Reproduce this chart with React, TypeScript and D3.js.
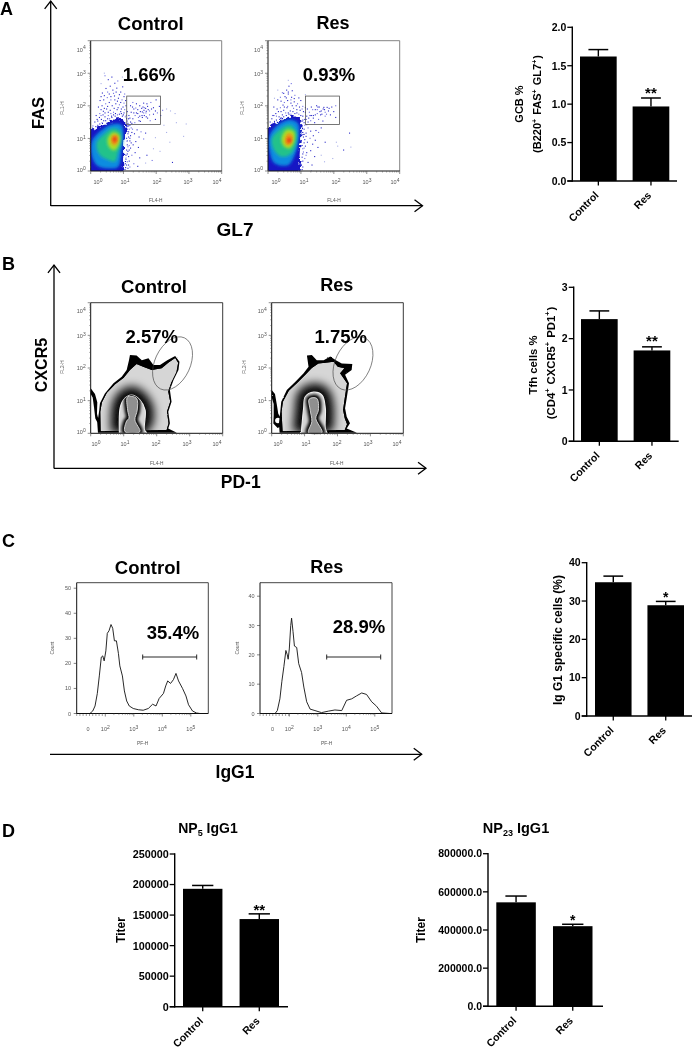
import React from "react";
import * as d3 from "d3";

type P = [number, number];
const FONT = "'Liberation Sans', Arial, sans-serif";

// ---------- bar chart values ----------
const groups = ["Control", "Res"];
const gcbMeans = [1.62, 0.97];
const gcbUpper = [1.71, 1.08];
const gcbTicks = [0, 0.5, 1, 1.5, 2];
const tfhMeans = [2.38, 1.77];
const tfhUpper = [2.54, 1.84];
const tfhTicks = [0, 1, 2, 3];
const igg1Means = [34.9, 28.9];
const igg1Upper = [36.5, 29.9];
const igg1Ticks = [0, 10, 20, 30, 40];
const np5Means = [193000, 143500];
const np5Upper = [198500, 152000];
const np5Ticks = [0, 50000, 100000, 150000, 200000, 250000];
const np23Means = [545000, 420000];
const np23Upper = [578000, 430000];
const np23Ticks = [0, 200000, 400000, 600000, 800000];

// ---------- histogram values (log10 channel, count) ----------
const histControl: P[] = [[0.99,0],[1.46,0],[1.56,1],[1.64,3],[1.72,8],[1.79,15],[1.86,22.5],[1.91,23],[1.96,21],[2.02,25],[2.07,32],[2.13,33],[2.2,35.5],[2.26,34],[2.32,29],[2.39,29],[2.46,24],[2.51,19],[2.6,15],[2.67,9],[2.75,5],[2.84,3],[2.98,2],[3.16,1.5],[3.33,1.3],[3.51,2],[3.66,3.7],[3.78,3],[3.89,6],[4.04,8],[4.12,11],[4.19,13],[4.29,12],[4.39,13.5],[4.48,16],[4.57,13],[4.71,10],[4.83,7],[4.92,3.5],[5.06,1],[5.2,0.2],[5.32,0]];
const histRes: P[] = [[1.09,0],[1.5,0],[1.58,1],[1.67,5],[1.74,11],[1.81,16],[1.88,21.5],[1.93,20],[1.96,18.5],[2,22],[2.05,30],[2.08,32.5],[2.13,28],[2.18,23],[2.26,22.5],[2.33,17],[2.43,14],[2.51,9],[2.61,4],[2.73,1.5],[2.9,1],[3.13,0.3],[3.37,0.8],[3.6,1.2],[3.84,1],[4.01,4.5],[4.19,5],[4.36,6],[4.54,7],[4.71,6.5],[4.89,4],[5.06,2.5],[5.24,0.2],[5.53,0]];

// ---------- dot-plot density contours (log10 GL7, log10 FAS) ----------
const a1Levels: P[][] = [
  [[0,1.21],[0.28,1.36],[0.59,1.51],[0.84,1.62],[1.0,1.58],[1.1,1.31],[1.02,0.9],[1.02,0.39],[0.97,0],[0,0]],
  [[0.03,0.9],[0.28,1.21],[0.64,1.43],[0.94,1.41],[0.99,1.1],[0.94,0.64],[0.84,0.13],[0.54,0.08],[0.18,0.18],[0.03,0.49]],
  [[0.18,0.85],[0.44,1.16],[0.69,1.31],[0.91,1.21],[0.93,0.9],[0.84,0.59],[0.74,0.29],[0.54,0.34],[0.28,0.49]],
  [[0.54,1.05],[0.69,1.19],[0.87,1.1],[0.87,0.85],[0.74,0.64],[0.59,0.7],[0.51,0.9]],
  [[0.62,0.98],[0.72,1.13],[0.84,1.05],[0.81,0.85],[0.72,0.78],[0.64,0.85]],
  [[0.67,0.98],[0.74,1.05],[0.79,0.98],[0.74,0.88]],
];
const a2Levels: P[][] = [
  [[0.02,1.36],[0.3,1.5],[0.71,1.68],[0.94,1.62],[1.04,1.45],[1.0,1],[0.96,0.49],[0.96,0],[0,0],[0,1.3]],
  [[0.05,1.1],[0.3,1.41],[0.66,1.57],[0.91,1.46],[0.93,1],[0.81,0.49],[0.61,0.18],[0.2,0.24],[0.05,0.59]],
  [[0.12,1],[0.35,1.26],[0.66,1.41],[0.86,1.21],[0.86,0.9],[0.71,0.54],[0.41,0.44],[0.18,0.65]],
  [[0.41,1],[0.56,1.26],[0.79,1.21],[0.79,0.9],[0.66,0.7],[0.49,0.75]],
  [[0.51,0.95],[0.61,1.16],[0.74,1.1],[0.73,0.88],[0.63,0.78],[0.54,0.82]],
  [[0.58,0.95],[0.66,1.02],[0.71,0.94],[0.63,0.86]],
];
const levelColours = ["#1414c4", "#0a8ce0", "#22c28a", "#a8e028", "#f09018", "#e83018"];

// sparse events
const a1Events: P[] = [[0.42,2.94],[0.52,2.82],[0.63,2.9],[0.72,2.71],[0.81,2.78],[0.58,2.62],[0.45,2.55],[0.34,2.41],[0.5,2.44],[0.66,2.5],[0.78,2.56],[0.9,2.44],[1.02,2.38],[0.96,2.6],[0.27,2.18],[0.38,2.2],[0.49,2.27],[0.6,2.3],[0.71,2.32],[0.83,2.25],[0.94,2.2],[1.05,2.18],[0.22,1.98],[0.33,2.02],[0.44,2.08],[0.55,2.12],[0.64,2.02],[0.75,2.08],[0.86,2.05],[0.97,1.98],[1.06,2.02],[0.15,1.72],[0.26,1.78],[0.37,1.85],[0.47,1.92],[0.58,1.88],[0.68,1.82],[0.79,1.9],[0.9,1.84],[1,1.8],[1.07,1.72],[0.2,1.55],[0.31,1.6],[0.42,1.68],[0.52,1.72],[0.63,1.66],[0.73,1.7],[0.95,1.7],[1.1,1.55],[1.15,1.72],[1.2,1.52],[1.27,1.62],[1.33,1.5],[1.22,1.82],[1.3,1.92],[1.38,1.8],[1.44,1.66],[1.5,1.54],[1.55,1.72],[1.61,1.88],[1.67,1.8],[1.58,1.98],[1.5,1.84],[1.72,1.64],[1.78,1.74],[1.84,1.92],[1.9,1.76],[1.96,1.6],[2.02,1.8],[1.62,1.72],[1.66,1.94],[1.72,2],[1.78,1.86],[1.56,1.83],[1.48,2.02],[1.38,2.08],[1.27,2.12],[1.2,2.02],[1.42,1.9],[1.6,2.1],[1.82,2.12],[1.98,2.2],[2.08,2],[2.12,1.72],[2.18,1.88],[1.14,1.22],[1.2,1.1],[1.18,0.94],[1.26,1.3],[1.32,1.16],[1.4,1.28],[1.46,1.06],[1.52,1.22],[1.28,0.82],[1.36,0.92],[1.44,0.74],[1.6,1],[1.66,1.18],[1.12,0.62],[1.2,0.72],[1.24,0.5],[1.34,0.58],[1.48,0.42],[1.16,0.32],[1.3,0.24],[1.42,0.16],[1.12,0.1],[1.7,0.5],[1.86,0.34],[2.48,0.28],[1.08,1.02],[1.1,0.82],[1.09,1.38],[1.06,0.5],[1.08,0.2],[1.1,1.3],
  // dense fringe round the main population
  [0.08,1.3],[0.14,1.38],[0.2,1.42],[0.26,1.46],[0.33,1.5],[0.38,1.56],[0.44,1.56],[0.5,1.62],[0.56,1.62],[0.62,1.7],[0.68,1.74],[0.74,1.78],[0.8,1.74],[0.86,1.76],[0.92,1.78],[0.98,1.74],[1.04,1.68],[1.08,1.62],[1.12,1.48],[1.14,1.4],[1.16,1.3],[1.12,1.16],[1.14,1.06],[1.1,0.94],[1.12,0.76],[1.08,0.66],[1.1,0.54],[1.06,0.38],[1.1,0.3],[1.04,0.24],[1.05,0.12],[1.03,0.06],
  [0.05,1.4],[0.11,1.52],[0.18,1.6],[0.25,1.66],[0.3,1.72],[0.36,1.74],[0.42,1.8],[0.52,1.82],[0.6,1.78],[0.7,1.94],[0.82,1.96],[0.92,1.92],[1.02,1.9],[1.1,1.84],[1.14,1.62],[1.18,1.42],[1.22,1.34],[1.24,1.2],[1.18,1.02],[1.22,0.88],[1.16,0.8],[1.16,0.66],[1.14,0.46],[1.14,0.2],[1.18,0.14],
  [0.3,2.3],[0.4,2.33],[0.55,2.38],[0.68,2.4],[0.76,2.44],[0.86,2.36],[1,2.3],[0.6,2.2],[0.72,2.2],[0.8,2.16],[0.9,2.12],[1,2.1],[0.5,2.0],[0.4,1.94],[0.3,1.9],
  [1.34,1.72],[1.42,1.78],[1.48,1.7],[1.54,1.94],[1.6,1.8],[1.68,1.68],[1.74,1.9],[1.68,1.85],[1.62,1.96],[1.56,1.66],[1.3,1.8],[1.26,1.98],[1.36,1.95],[1.7,2.08],[1.9,1.96],[1.96,1.86],[1.8,1.56],[1.46,1.56],[1.24,1.48],[1.18,1.64]];
const a1Faint: P[] = [[2.22,1.42],[2.3,1.92],[2.42,1.86],[2.56,1.78],[2.6,1.5],[2.9,1.46],[2.82,1.08],[2.4,0.9],[1.96,1.04],[1.9,0.7],[1.66,0.26],[2.1,0.62],[2.3,1.2],[0.4,3.02],[0.3,2.7],[0.95,2.9]];
const a2Events: P[] = [[0.69,2.7],[0.62,2.62],[0.55,2.5],[0.72,2.48],[0.42,2.42],[0.5,2.3],[0.6,2.38],[0.7,2.28],[0.8,2.34],[0.92,2.26],[0.28,2.2],[0.38,2.16],[0.48,2.12],[0.58,2.18],[0.68,2.1],[0.78,2.14],[0.88,2.08],[0.98,2.18],[0.16,1.98],[0.26,1.92],[0.36,1.96],[0.46,1.88],[0.56,1.96],[0.66,1.86],[0.76,1.94],[0.86,1.9],[0.96,1.88],[1.06,1.84],[0.12,1.72],[0.22,1.78],[0.32,1.68],[0.42,1.74],[0.52,1.8],[0.62,1.76],[1.04,1.7],[1.1,1.6],[1.02,1.92],[1.12,1.82],[1.16,1.7],[1.2,1.52],[1.24,1.82],[1.3,1.98],[1.36,1.72],[1.42,1.9],[1.48,1.78],[1.54,1.98],[1.6,1.86],[1.66,1.92],[1.72,1.82],[1.78,1.97],[1.82,1.86],[1.88,1.74],[1.72,1.7],[1.58,1.74],[1.46,2.02],[1.36,1.64],[1.28,1.56],[1.92,1.98],[1.98,1.84],[2.04,1.66],[2.04,2.02],[1.18,1.92],[1.3,1.72],[1.4,1.5],[1.52,1.6],[1.65,1.55],[1.08,1.3],[1.14,1.18],[1.2,1.34],[1.28,1.24],[1.36,1.1],[1.44,1.26],[1.52,1.2],[1.6,1.34],[1.1,0.98],[1.18,0.9],[1.26,1.02],[1.34,0.84],[1.42,0.96],[1.5,0.74],[1.08,0.72],[1.16,0.58],[1.28,0.64],[1.4,0.46],[1.1,0.4],[1.2,0.28],[1.32,0.2],[1.04,0.14],[1.06,0.6],[2.46,1.18],[2.28,0.66],[1.72,0.9],[1.02,1.42],[1.04,1.2],[1.02,0.8],
  // dense fringe round the main population
  [0.06,1.42],[0.12,1.48],[0.18,1.54],[0.24,1.58],[0.34,1.6],[0.4,1.64],[0.46,1.68],[0.54,1.72],[0.6,1.8],[0.68,1.76],[0.74,1.84],[0.8,1.78],[0.86,1.8],[0.92,1.76],[0.98,1.72],[1.04,1.58],[1.08,1.5],[1.1,1.42],[1.08,1.14],[1.06,1.06],[1.08,0.88],[1.04,0.7],[1.04,0.54],[1.02,0.44],[1.04,0.32],[1,0.22],[1.02,0.06],[1.12,0.78],[1.14,1.08],[1.14,0.5],
  [0.05,1.52],[0.1,1.62],[0.16,1.72],[0.24,1.7],[0.3,1.84],[0.38,1.84],[0.48,1.98],[0.58,2],[0.72,2.02],[0.84,2.02],[0.94,1.98],[1.04,2],[1.12,1.96],[1.14,1.6],[1.16,1.44],[0.36,2.28],[0.46,2.4],[0.6,2.44],[0.78,2.24],[0.68,2.2],[0.54,2.26],[0.44,2.04],
  [1.42,1.74],[1.48,1.9],[1.56,1.84],[1.62,1.76],[1.7,1.9],[1.76,1.76],[1.84,1.94],[1.68,1.97],[1.5,1.98],[1.34,1.9],[1.26,1.72],[1.22,1.64]];
const a2Faint: P[] = [[1.12,2.36],[0.6,2.8],[0.28,2.5],[0.18,2.25],[2.06,0.9],[2.1,0.78],[1.6,0.5],[1.7,0.3],[1.95,0.4],[1.3,0.02],[2.5,0.75]];

// zebra contours (log10 PD-1, log10 CXCR5)
const b1Outer: P[] = [[0.26,0.71],[0.28,0.92],[0.43,1.22],[0.69,1.53],[0.94,1.73],[1.09,1.94],[1.16,2.24],[1.19,2.4],[1.39,2.38],[1.55,2.24],[1.75,2.3],[1.9,2.09],[2.1,2.09],[2.32,2.24],[2.56,2.37],[2.69,2.19],[2.66,1.94],[2.51,1.63],[2.4,1.33],[2.45,0.97],[2.35,0.66],[2.4,0.31],[2.35,0.15],[2.61,0.02],[0.22,0.02],[0.2,0.3]];
const b1Inner: P[] = [[0.29,0.66],[0.34,0.95],[0.49,1.24],[0.74,1.5],[1.0,1.7],[1.19,1.94],[1.39,2.12],[1.59,2.04],[1.85,1.94],[2.15,1.99],[2.35,2.16],[2.56,2.31],[2.65,2.16],[2.6,1.88],[2.44,1.55],[2.35,1.28],[2.41,0.97],[2.31,0.66],[2.36,0.31],[2.3,0.1],[0.3,0.06]];
const b1Arch: P[] = [[0.87,0.02],[0.89,0.77],[0.99,1.02],[1.24,1.17],[1.49,1.02],[1.65,0.71],[1.63,0.1],[1.7,0.02]];
const b1Core: P[] = [[1.12,1.12],[1.39,1.07],[1.41,0.71],[1.34,0.41],[1.49,0.05],[1.04,0.05],[1.09,0.38],[1.16,0.46],[1.12,0.71]];
const b1TailOuter: P[] = [[0,1.38],[0.13,1.2],[0.2,0.95],[0.19,0.6],[0.24,0.4],[0.22,0.3],[0.14,0.45],[0.1,0.8],[0.06,1.1],[0,1.2]];
const b2Outer: P[] = [[0.26,0.66],[0.29,0.97],[0.46,1.33],[0.72,1.58],[0.97,1.84],[1.12,2.04],[1.07,2.38],[1.22,2.4],[1.37,2.24],[1.58,2.24],[1.78,2.35],[1.95,2.24],[2.13,2.14],[2.45,2.12],[2.43,1.94],[2.23,1.79],[2.35,1.53],[2.28,1.07],[2.23,0.77],[2.28,0.51],[2.38,0.31],[2.28,0.15],[2.59,0.02],[0.24,0.02],[0.22,0.3]];
const b2Inner: P[] = [[0.3,0.66],[0.34,0.97],[0.52,1.3],[0.78,1.55],[1.03,1.8],[1.22,2],[1.42,2.14],[1.63,2.16],[1.88,2.19],[2.01,2.04],[2.21,1.99],[2.08,1.84],[2.29,1.53],[2.22,1.07],[2.17,0.71],[2.22,0.46],[2.29,0.28],[2.22,0.1],[0.33,0.06]];
const b2Arch: P[] = [[0.9,0.02],[0.97,0.77],[1.02,1.12],[1.27,1.26],[1.53,1.17],[1.63,0.77],[1.63,0.15],[1.68,0.02]];
const b2Core: P[] = [[1.14,1.05],[1.37,1.07],[1.42,0.71],[1.34,0.46],[1.53,0.02],[1.12,0.02],[1.22,0.36],[1.17,0.71]];
const b2TailOuter: P[] = [[0,1.33],[0.1,1.2],[0.16,0.85],[0.2,0.6],[0.3,0.42],[0.3,0.22],[0.18,0.16],[0.05,0.3],[0.06,0.55],[0.06,0.9],[0,1.1]];

// gates
const a1Gate = { x: [1.1, 2.13], y: [1.43, 2.3] };
const a2Gate = { x: [1.14, 2.17], y: [1.43, 2.3] };
const b1Ellipse: P = [2.48, 2.14];
const b2Ellipse: P = [2.47, 2.14];
const decades = [0, 1, 2, 3, 4];
const minorSteps = [2, 3, 4, 5, 6, 7, 8, 9];

// ---------- shared pieces ----------
function Label({ x, y, size = 18.5, anchor = "middle", rotate, children, fill = "#000", weight = "bold" }: any) {
  return (
    <text x={x} y={y} fontSize={size} fontWeight={weight} fontFamily={FONT} textAnchor={anchor} fill={fill}
      transform={rotate != null ? `rotate(${rotate} ${x} ${y})` : undefined}>{children}</text>
  );
}
const Sup = ({ s, size }: { s: string; size: number }) => (
  <><tspan dy={-size * 0.4} fontSize={size * 0.65}>{s}</tspan><tspan dy={size * 0.4} fontSize={size}>{"\u200a"}</tspan></>
);

function Arrow({ x1, y1, x2, y2 }: { x1: number; y1: number; x2: number; y2: number }) {
  const a = Math.atan2(y2 - y1, x2 - x1);
  const h = 10;
  const p = (t: number) => [x2 - h * Math.cos(a + t), y2 - h * Math.sin(a + t)];
  const [l, r] = [p(0.65), p(-0.65)];
  return (
    <g stroke="#000" strokeWidth={1.3} fill="none">
      <line x1={x1} y1={y1} x2={x2} y2={y2} />
      <path d={`M${l[0]},${l[1]}L${x2},${y2}L${r[0]},${r[1]}`} />
    </g>
  );
}

function LogAxes({ sx, sy, yLab, xLab, xLabX, xLabY, yLabY, yLabelX, xPos, yPos, dark }: any) {
  const [x0, x1] = sx.range();
  const [y0, y1] = sy.range();
  const minors = decades.slice(0, 4).flatMap((d: number) => minorSteps.map((m) => d + Math.log10(m)));
  const c = "#444";
  return (
    <g>
      <path d={`M${x0},${y1}H${x1}V${y0}`} fill="none" stroke={dark ? "#222" : "#777"} strokeWidth={0.9} />
      <path d={`M${x0},${y1}V${y0}H${x1}`} fill="none" stroke="#111" strokeWidth={1} />
      {decades.map((d) => <line key={"xM" + d} x1={sx(d)} x2={sx(d)} y1={y0} y2={y0 + 3} stroke={c} strokeWidth={0.6} />)}
      {decades.map((d) => <line key={"yM" + d} x1={x0} x2={x0 - 3} y1={sy(d)} y2={sy(d)} stroke={c} strokeWidth={0.6} />)}
      {minors.map((d: number) => <line key={"xm" + d} x1={sx(d)} x2={sx(d)} y1={y0} y2={y0 + 1.6} stroke={c} strokeWidth={0.4} />)}
      {minors.map((d: number) => <line key={"ym" + d} x1={x0} x2={x0 - 1.6} y1={sy(d)} y2={sy(d)} stroke={c} strokeWidth={0.4} />)}
      {decades.map((d, i) => (
        <text key={"xl" + d} x={xPos[i]} y={y0 + 13} fontSize={5.5} fill="#555" textAnchor="middle" fontFamily={FONT}>
          10<tspan dy={-2.5} fontSize={5}>{d}</tspan>
        </text>
      ))}
      {decades.map((d, i) => (
        <text key={"yl" + d} x={x0 - 5} y={yPos[i] + 2} fontSize={5.5} fill="#555" textAnchor="end" fontFamily={FONT}>
          10<tspan dy={-2.5} fontSize={5}>{d}</tspan>
        </text>
      ))}
      <Label x={yLabelX} y={yLabY} size={4.8} weight="normal" fill="#555" rotate={-90}>{yLab}</Label>
      <Label x={xLabX} y={xLabY} size={4.8} weight="normal" fill="#555">{xLab}</Label>
    </g>
  );
}

function Rough({ id, scale, blur }: { id: string; scale: number; blur: number }) {
  return (
    <filter id={id} x="-20%" y="-20%" width="140%" height="140%">
      <feTurbulence type="fractalNoise" baseFrequency="0.35" numOctaves={2} seed={3} result="n" />
      <feDisplacementMap in="SourceGraphic" in2="n" scale={scale} xChannelSelector="R" yChannelSelector="G" result="d" />
      <feGaussianBlur in="d" stdDeviation={blur} />
    </filter>
  );
}

function DotPlot({ id, frame, levels, events, faint, gate, xPos, yPos, xLabX, yLabelX }: any) {
  const sx = d3.scaleLinear().domain([0, 4]).range([frame[0], frame[1]]);
  const sy = d3.scaleLinear().domain([0, 4]).range([frame[3], frame[2]]);
  const blob = d3.line<P>().x((d) => sx(d[0])).y((d) => sy(d[1])).curve(d3.curveCatmullRomClosed.alpha(0.5));
  return (
    <g>
      <defs>
        <clipPath id={id + "c"}><rect x={frame[0]} y={frame[2]} width={frame[1] - frame[0]} height={frame[3] - frame[2]} /></clipPath>
        <filter id={id + "b"} x="-30%" y="-30%" width="160%" height="160%"><feGaussianBlur stdDeviation={1.7} /></filter>
        <Rough id={id + "r"} scale={7} blur={0.7} />
      </defs>
      <g clipPath={`url(#${id}c)`}>
        {faint.map((d: P, i: number) => <rect key={"f" + i} x={sx(d[0])} y={sy(d[1])} width={1.1} height={1.1} fill="#aab0e8" />)}
        {events.map((d: P, i: number) => <rect key={"e" + i} x={sx(d[0])} y={sy(d[1])} width={1.1} height={1.1} fill={i % 4 === 0 ? "#7070e4" : "#2a2ac8"} />)}
        {levels.map((l: P[], i: number) => (
          <path key={i} d={blob(l) as string} fill={levelColours[i]} filter={i === 0 ? `url(#${id}r)` : `url(#${id}b)`} />
        ))}
      </g>
      <rect x={sx(gate.x[0])} y={sy(gate.y[1])} width={sx(gate.x[1]) - sx(gate.x[0])} height={sy(gate.y[0]) - sy(gate.y[1])} fill="none" stroke="#555" strokeWidth={0.8} />
      <LogAxes sx={sx} sy={sy} yLab="FL1-H" xLab="FL4-H" xLabX={xLabX} xLabY={202} yLabY={108} yLabelX={yLabelX} xPos={xPos} yPos={yPos} />
    </g>
  );
}

function ZebraPlot({ id, frame, outer, inner, arch, core, tailOuter, hole, ellipse, xPos, yPos, xLabX, yLabelX }: any) {
  const sx = d3.scaleLinear().domain([0, 4]).range([frame[0], frame[1]]);
  const sy = d3.scaleLinear().domain([0, 4]).range([frame[3], frame[2]]);
  const closed = d3.line<P>().x((d) => sx(d[0])).y((d) => sy(d[1])).curve(d3.curveCatmullRomClosed.alpha(0.5));
  const sharp = d3.line<P>().x((d) => sx(d[0])).y((d) => sy(d[1])).curve(d3.curveLinearClosed);
  const openL = d3.line<P>().x((d) => sx(d[0])).y((d) => sy(d[1])).curve(d3.curveCatmullRom.alpha(0.5));
  const [cx, cy] = [sx(ellipse[0]), sy(ellipse[1])];
  return (
    <g>
      <defs>
        <clipPath id={id + "i"}><path d={sharp(inner) as string} /></clipPath>
        <clipPath id={id + "a"}><path d={openL(arch) as string} /></clipPath>
        <filter id={id + "h"} x="-60%" y="-60%" width="220%" height="220%"><feGaussianBlur stdDeviation={5} /></filter>
        <filter id={id + "s"} x="-60%" y="-60%" width="220%" height="220%"><feGaussianBlur stdDeviation={1.8} /></filter>
        <Rough id={id + "r"} scale={1.6} blur={0.2} />
      </defs>
      <path d={sharp(tailOuter) as string} fill="#000" filter={`url(#${id}r)`} />
      {hole && <circle cx={sx(hole[0])} cy={sy(hole[1])} r={2.8} fill="#fff" />}
      <path d={sharp(outer) as string} fill="#000" filter={`url(#${id}r)`} />
      <g clipPath={`url(#${id}i)`}>
        <path d={sharp(inner) as string} fill="#d6d6d6" />
        <path d={openL(arch) as string} fill="none" stroke="#000" strokeWidth={17} filter={`url(#${id}h)`} />
      </g>
      <path d={openL(arch) as string} fill="#d6d6d6" stroke="#f0f0f0" strokeWidth={1.1} />
      <g clipPath={`url(#${id}a)`}>
        <path d={closed(core) as string} fill="none" stroke="#000" strokeWidth={6} filter={`url(#${id}s)`} />
      </g>
      <path d={closed(core) as string} fill="#8f8f8f" stroke="#dcdcdc" strokeWidth={0.9} />
      <ellipse cx={cx} cy={cy} rx={17.7} ry={28.2} transform={`rotate(25 ${cx} ${cy})`} fill="none" stroke="#444" strokeWidth={0.6} />
      <LogAxes sx={sx} sy={sy} dark yLab="FL2-H" xLab="FL4-H" xLabX={xLabX} xLabY={465} yLabY={367} yLabelX={yLabelX} xPos={xPos} yPos={yPos} />
    </g>
  );
}

function Histogram({ frame, data, yMax, ticks, gate, zeroX, labels, countX, pfX, tickLabelX }: any) {
  const sx = d3.scaleLinear().domain([2, 5]).range([frame.x2, frame.x2 + 85.5]);
  const sy = d3.scaleLinear().domain([0, yMax]).range([frame.b, frame.t]);
  const line = d3.line<P>().x((d) => sx(d[0])).y((d) => sy(d[1])).curve(d3.curveLinear);
  const minor = [2, 3, 4].flatMap((d) => minorSteps.map((m) => d + Math.log10(m)));
  const low = d3.range(frame.l, sx(2), 3.2);
  return (
    <g>
      <path d={`M${frame.l},${frame.t}H${frame.r}V${frame.b}`} fill="none" stroke="#444" strokeWidth={1} />
      <path d={`M${frame.l},${frame.t}V${frame.b}H${frame.r}`} fill="none" stroke="#111" strokeWidth={1} />
      {ticks.map((t: number) => (
        <g key={t}>
          <line x1={frame.l} x2={frame.l - 3} y1={sy(t)} y2={sy(t)} stroke="#333" strokeWidth={0.6} />
          <text x={tickLabelX} y={sy(t) + 2} fontSize={5.5} fill="#555" textAnchor="end" fontFamily={FONT}>{t}</text>
        </g>
      ))}
      {low.map((x: number) => <line key={x} x1={x} x2={x} y1={frame.b} y2={frame.b + 2.5} stroke="#444" strokeWidth={0.5} />)}
      {minor.map((d) => <line key={d} x1={sx(d)} x2={sx(d)} y1={frame.b} y2={frame.b + 1.6} stroke="#444" strokeWidth={0.4} />)}
      {[2, 3, 4, 5].map((d) => <line key={d} x1={sx(d)} x2={sx(d)} y1={frame.b} y2={frame.b + 3} stroke="#333" strokeWidth={0.6} />)}
      <text x={zeroX} y={731} fontSize={5.5} fill="#555" textAnchor="middle" fontFamily={FONT}>0</text>
      {labels.map((d: number) => (
        <text key={d} x={sx(d)} y={731} fontSize={5.5} fill="#555" textAnchor="middle" fontFamily={FONT}>
          10<tspan dy={-2.5} fontSize={5}>{d}</tspan>
        </text>
      ))}
      <Label x={countX} y={648} size={4.8} weight="normal" fill="#555" rotate={-90}>Count</Label>
      <Label x={pfX} y={745} size={4.8} weight="normal" fill="#555">PF-H</Label>
      <path d={line(data) as string} fill="none" stroke="#111" strokeWidth={0.9} />
      <path d={`M${gate[0]},${gate[2] - 2.5}V${gate[2] + 2.5}M${gate[0]},${gate[2]}H${gate[1]}M${gate[1]},${gate[2] - 2.5}V${gate[2] + 2.5}`} fill="none" stroke="#111" strokeWidth={0.9} />
    </g>
  );
}

function BarChart({ axisX, axisEnd, y0, yTop, domainMax, bars, means, upper, ticks, fmt, tickSize, xSize, stars, starY, starSize }: any) {
  const sx = d3.scaleBand().domain(groups).range(bars).paddingInner(0.303).paddingOuter(0);
  const sy = d3.scaleLinear().domain([0, domainMax]).range([y0, yTop]);
  const bw = sx.bandwidth();
  return (
    <g>
      {groups.map((g, i) => {
        const x = sx(g) as number;
        const c = x + bw / 2;
        return (
          <g key={g}>
            <line x1={c} x2={c} y1={sy(means[i])} y2={sy(upper[i])} stroke="#000" strokeWidth={1.4} />
            <line x1={c - bw * 0.27} x2={c + bw * 0.27} y1={sy(upper[i])} y2={sy(upper[i])} stroke="#000" strokeWidth={1.5} />
            <rect x={x} y={sy(means[i])} width={bw} height={y0 - sy(means[i])} fill="#000" />
            <line x1={c} x2={c} y1={y0} y2={y0 + 4.5} stroke="#000" strokeWidth={1.3} />
            <text x={c + 1} y={y0 + 15} fontSize={xSize} fontWeight="bold" fontFamily={FONT} textAnchor="end"
              transform={`rotate(-45 ${c + 1} ${y0 + 15})`}>{g}</text>
          </g>
        );
      })}
      <line x1={axisX} x2={axisX} y1={yTop - 0.7} y2={y0 + 0.7} stroke="#000" strokeWidth={1.4} />
      <line x1={axisX - 5} x2={axisEnd} y1={y0} y2={y0} stroke="#000" strokeWidth={1.4} />
      {ticks.map((t: number) => (
        <g key={t}>
          <line x1={axisX - 5} x2={axisX} y1={sy(t)} y2={sy(t)} stroke="#000" strokeWidth={1.3} />
          <text x={axisX - 6} y={sy(t) + tickSize * 0.36} fontSize={tickSize} fontWeight="bold" fontFamily={FONT} textAnchor="end">{fmt(t)}</text>
        </g>
      ))}
      {stars.map((s: string, i: number) => s && (
        <text key={i} x={(sx(groups[i]) as number) + bw / 2} y={starY} fontSize={starSize} fontWeight="bold" fontFamily={FONT} textAnchor="middle">{s}</text>
      ))}
    </g>
  );
}

export default function App() {
  const f1 = d3.format(".1f");
  const f0 = d3.format("d");
  return (
    <svg width={693} height={1049} viewBox="0 0 693 1049" style={{ position: "absolute", left: 0, top: 0, background: "#fff" }}>
      <defs>
        <filter id="soft" x="0" y="0" width="100%" height="100%" filterUnits="userSpaceOnUse" primitiveUnits="userSpaceOnUse">
          <feGaussianBlur stdDeviation={0.3} />
        </filter>
      </defs>
      <g filter="url(#soft)">
      <rect width={693} height={1049} fill="#fff" />
      {/* Panel A */}
      <Label x={0} y={15} size={18} anchor="start">A</Label>
      <Arrow x1={50.7} y1={206} x2={50.7} y2={1} />
      <Arrow x1={50.7} y1={205.7} x2={422.5} y2={205.7} />
      <Label x={44} y={113} size={16.5} rotate={-90}>FAS</Label>
      <Label x={235} y={236} size={19}>GL7</Label>
      <Label x={150.7} y={30}>Control</Label>
      <Label x={333} y={29} size={18}>Res</Label>
      <DotPlot id="a1" frame={[90.7, 221.7, 40.7, 171]} levels={a1Levels} events={a1Events} faint={a1Faint} gate={a1Gate}
        xPos={[98, 125, 157, 188, 217]} yPos={[170, 139, 106, 74, 49.5]} xLabX={155.7} yLabelX={64} />
      <DotPlot id="a2" frame={[268, 399.7, 40.7, 171]} levels={a2Levels} events={a2Events} faint={a2Faint} gate={a2Gate}
        xPos={[276, 304, 336, 367, 395]} yPos={[170, 139, 106, 74, 49.5]} xLabX={334} yLabelX={243.5} />
      <Label x={149} y={81}>1.66%</Label>
      <Label x={329} y={81}>0.93%</Label>

      <Label x={523} y={104} size={11} rotate={-90}>GCB %</Label>
      <Label x={541} y={104} size={11} rotate={-90}>
        (B220<Sup s="+" size={11} /> FAS<Sup s="+" size={11} /> GL7<Sup s="+" size={11} />)
      </Label>
      <BarChart axisX={572.3} axisEnd={677} y0={181} yTop={27.3} domainMax={2} bars={[580, 669.3]} means={gcbMeans} upper={gcbUpper}
        ticks={gcbTicks} fmt={f1} tickSize={10.5} xSize={10.5} stars={["", "**"]} starY={98} starSize={15} />

      {/* Panel B */}
      <Label x={2} y={270} size={18} anchor="start">B</Label>
      <Arrow x1={54} y1={468.5} x2={54} y2={265} />
      <Arrow x1={54} y1={468.3} x2={426} y2={468.3} />
      <Label x={47} y={365} size={16} rotate={-90}>CXCR5</Label>
      <Label x={240.7} y={488} size={17.5}>PD-1</Label>
      <Label x={154} y={292.7}>Control</Label>
      <Label x={336.7} y={290.7} size={18}>Res</Label>
      <ZebraPlot id="b1" frame={[90.7, 222.7, 302.7, 433.3]} outer={b1Outer} inner={b1Inner} arch={b1Arch} core={b1Core}
        tailOuter={b1TailOuter} ellipse={b1Ellipse}
        xPos={[96, 125, 156, 187, 217]} yPos={[432, 401, 368, 336, 311]} xLabX={156.7} yLabelX={64} />
      <ZebraPlot id="b2" frame={[271.7, 403.3, 302.7, 433.3]} outer={b2Outer} inner={b2Inner} arch={b2Arch} core={b2Core}
        tailOuter={b2TailOuter} hole={[0.19, 0.39]} ellipse={b2Ellipse}
        xPos={[278, 306, 337, 368, 397]} yPos={[432, 401, 368, 336, 311]} xLabX={336.7} yLabelX={246} />
      <Label x={151.7} y={343}>2.57%</Label>
      <Label x={340.7} y={343}>1.75%</Label>

      <Label x={536.5} y={365} size={11.3} rotate={-90}>Tfh cells %</Label>
      <Label x={555} y={363} size={11.3} rotate={-90}>
        (CD4<Sup s="+" size={11.3} /> CXCR5<Sup s="+" size={11.3} /> PD1<Sup s="+" size={11.3} />)
      </Label>
      <BarChart axisX={573.7} axisEnd={678.7} y0={441.3} yTop={287.3} domainMax={3} bars={[581, 670.3]} means={tfhMeans} upper={tfhUpper}
        ticks={tfhTicks} fmt={f0} tickSize={10.5} xSize={10.5} stars={["", "**"]} starY={346} starSize={15} />

      {/* Panel C */}
      <Label x={2} y={547} size={18} anchor="start">C</Label>
      <Arrow x1={50} y1={754.3} x2={421.7} y2={754.3} />
      <Label x={235} y={778} size={17.5}>IgG1</Label>
      <Label x={147.7} y={574}>Control</Label>
      <Label x={326.7} y={573} size={18}>Res</Label>
      <Histogram frame={{ l: 76.7, r: 208.3, t: 582.7, b: 713.5, x2: 105.3 }} data={histControl} yMax={52.2} ticks={[0, 10, 20, 30, 40, 50]}
        gate={[142.7, 196.7, 657]} zeroX={88} labels={[2, 3, 4, 5]} countX={54} pfX={142.7} tickLabelX={71} />
      <Histogram frame={{ l: 260, r: 392, t: 582.7, b: 713.5, x2: 289.3 }} data={histRes} yMax={44.6} ticks={[0, 10, 20, 30, 40]}
        gate={[326.7, 380.7, 657]} zeroX={272.5} labels={[2, 3, 4, 5]} countX={238.5} pfX={326.7} tickLabelX={254.5} />
      <Label x={173} y={639}>35.4%</Label>
      <Label x={359} y={632.7}>28.9%</Label>

      <Label x={562} y={640} size={12} rotate={-90}>Ig G1 specific cells (%)</Label>
      <BarChart axisX={586.7} axisEnd={692} y0={716} yTop={562.7} domainMax={40} bars={[595, 684]} means={igg1Means} upper={igg1Upper}
        ticks={igg1Ticks} fmt={f0} tickSize={10.5} xSize={10.5} stars={["", "*"]} starY={602} starSize={14} />

      {/* Panel D */}
      <Label x={2} y={837} size={18} anchor="start">D</Label>
      <Label x={208} y={833} size={14}>
        NP<tspan dy={2.5} fontSize={9}>5</tspan><tspan dy={-2.5}> IgG1</tspan>
      </Label>
      <Label x={125} y={930} size={12} rotate={-90}>Titer</Label>
      <BarChart axisX={174.7} axisEnd={288} y0={1006.7} yTop={854} domainMax={250000} bars={[183, 279]} means={np5Means} upper={np5Upper}
        ticks={np5Ticks} fmt={f0} tickSize={10.8} xSize={10.5} stars={["", "**"]} starY={915} starSize={15} />
      <Label x={516} y={833} size={14.5}>
        NP<tspan dy={2.5} fontSize={9}>23</tspan><tspan dy={-2.5}> IgG1</tspan>
      </Label>
      <Label x={425} y={930} size={12} rotate={-90}>Titer</Label>
      <BarChart axisX={488} axisEnd={603} y0={1006.3} yTop={853.7} domainMax={800000} bars={[496.3, 592.5]} means={np23Means} upper={np23Upper}
        ticks={np23Ticks} fmt={f1} tickSize={10.5} xSize={10.5} stars={["", "*"]} starY={925} starSize={14} />
      </g>
    </svg>
  );
}
